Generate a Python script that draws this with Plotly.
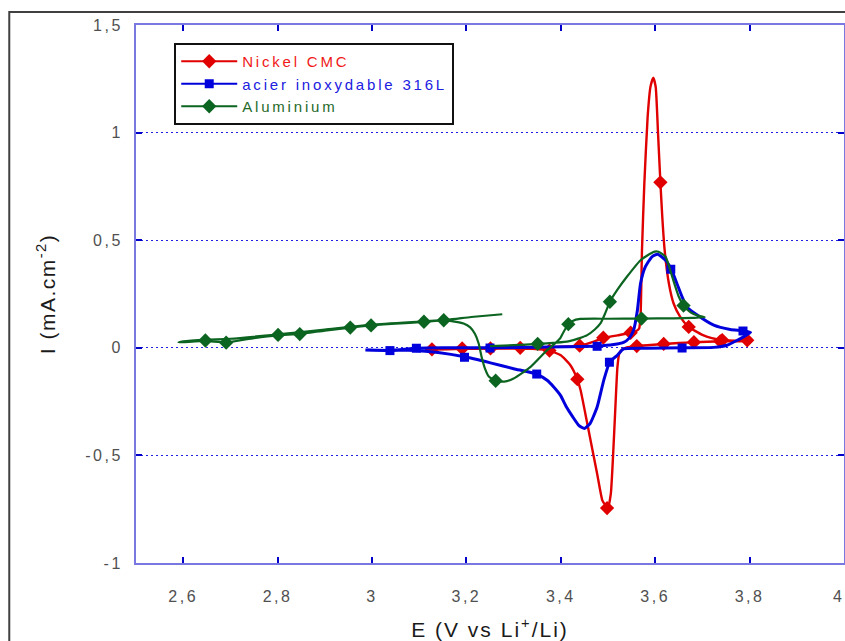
import plotly.graph_objects as go

# ---------------- data ----------------
# Nickel CMC  (full CV loop, anodic then cathodic)
ni_E = [3.113, 3.127, 3.19, 3.25, 3.31, 3.376, 3.44, 3.465, 3.49, 3.52, 3.548, 3.560, 3.566,
        3.569, 3.572, 3.577, 3.584, 3.590, 3.596, 3.601, 3.606, 3.611, 3.615, 3.620, 3.629,
        3.639, 3.653, 3.671, 3.70, 3.72, 3.742, 3.77, 3.803,
        3.78, 3.742, 3.71, 3.682, 3.65, 3.618, 3.59, 3.561, 3.54, 3.530, 3.524, 3.520, 3.515,
        3.511, 3.506, 3.500, 3.494, 3.488, 3.477, 3.463, 3.452, 3.442, 3.435, 3.42, 3.40,
        3.376, 3.34, 3.30, 3.25, 3.19, 3.13, 3.113]
ni_I = [-0.008, -0.007, -0.003, -0.002, 0.000, 0.003, 0.010, 0.025, 0.045, 0.058, 0.070, 0.078, 0.090,
        0.150, 0.454, 0.764, 1.074, 1.213, 1.255, 1.213, 0.997, 0.769, 0.609, 0.454, 0.299,
        0.206, 0.144, 0.097, 0.060, 0.045, 0.036, 0.033, 0.035,
        0.030, 0.030, 0.028, 0.026, 0.022, 0.018, 0.013, 0.008, 0.002, -0.008, -0.025, -0.089, -0.306,
        -0.490, -0.678, -0.745, -0.730, -0.709, -0.585, -0.430, -0.306, -0.197, -0.146, -0.080, -0.035,
        -0.013, -0.005, -0.003, -0.004, -0.005, -0.008, -0.008]
ni_mk_E = [3.127, 3.191, 3.251, 3.314, 3.376, 3.440, 3.490, 3.548, 3.611, 3.671, 3.742, 3.795,
           3.738, 3.682, 3.618, 3.561, 3.435, 3.498]
ni_mk_I = [-0.007, -0.003, -0.003, 0.000, -0.013, 0.010, 0.047, 0.070, 0.769, 0.097, 0.036, 0.035,
           0.030, 0.026, 0.018, 0.008, -0.146, -0.745]

# acier inoxydable 316L
ss_E = [2.986, 3.039, 3.095, 3.15, 3.251, 3.35, 3.478, 3.512, 3.533, 3.545, 3.554, 3.562, 3.569,
        3.579, 3.593, 3.605, 3.622, 3.634, 3.646, 3.657, 3.667, 3.689, 3.724, 3.759, 3.786, 3.802,
        3.774, 3.752, 3.724, 3.658, 3.583, 3.533, 3.519, 3.504, 3.491, 3.477, 3.462, 3.450, 3.438,
        3.425, 3.412, 3.399, 3.385, 3.371, 3.350, 3.300, 3.251, 3.196, 3.14, 3.09, 3.04, 2.99]
ss_I = [-0.010, -0.012, -0.002, 0.000, 0.000, 0.003, 0.008, 0.015, 0.025, 0.045, 0.080, 0.170, 0.300,
        0.376, 0.423, 0.435, 0.407, 0.365, 0.299, 0.237, 0.190, 0.152, 0.105, 0.085, 0.079, 0.072,
        0.035, 0.012, 0.002, 0.000, -0.002, -0.005, -0.036, -0.065, -0.151, -0.275, -0.352, -0.375, -0.360,
        -0.320, -0.275, -0.220, -0.182, -0.151, -0.123, -0.097, -0.070, -0.042, -0.022, -0.012, -0.012, -0.010]
ss_mk_E = [3.038, 3.094, 3.196, 3.250, 3.349, 3.477, 3.503, 3.633, 3.786, 3.657]
ss_mk_I = [-0.013, -0.002, -0.044, -0.001, -0.122, 0.007, -0.067, 0.365, 0.078, -0.001]

# Aluminium
al_E = [3.25, 3.30, 3.351, 3.39, 3.416, 3.44, 3.456, 3.472, 3.484, 3.494, 3.504, 3.52, 3.54, 3.569,
        3.597, 3.607, 3.622, 3.636, 3.650, 3.660, 3.675, 3.69, 3.705,
        3.68, 3.639, 3.571, 3.50, 3.441, 3.425, 3.416, 3.405, 3.399, 3.385, 3.371, 3.336, 3.30,
        3.28, 3.262, 3.248, 3.240, 3.232, 3.226, 3.218, 3.208, 3.194, 3.175, 3.152, 3.11, 3.05,
        2.998, 2.954, 2.90, 2.847, 2.801, 2.75, 2.691, 2.647, 2.59,
        2.60, 2.65, 2.70, 2.80, 2.90, 3.00, 3.10, 3.16, 3.21, 3.276]
al_I = [0.008, 0.012, 0.018, 0.024, 0.030, 0.045, 0.059, 0.085, 0.113, 0.160, 0.214, 0.270, 0.330, 0.407,
        0.446, 0.446, 0.423, 0.330, 0.237, 0.196, 0.165, 0.150, 0.142,
        0.139, 0.137, 0.136, 0.135, 0.134, 0.125, 0.110, 0.070, 0.045, 0.015, -0.011, -0.089, -0.143,
        -0.157, -0.153, -0.135, -0.100, -0.040, 0.020, 0.065, 0.095, 0.113, 0.122, 0.127, 0.120, 0.112,
        0.104, 0.094, 0.080, 0.064, 0.058, 0.045, 0.025, 0.032, 0.025,
        0.030, 0.038, 0.042, 0.062, 0.085, 0.108, 0.122, 0.130, 0.143, 0.156]
al_mk_E = [2.647, 2.691, 2.801, 2.847, 2.954, 2.998, 3.110, 3.152, 3.262, 3.351, 3.416, 3.504, 3.571, 3.660]
al_mk_I = [0.034, 0.024, 0.060, 0.064, 0.094, 0.104, 0.121, 0.128, -0.153, 0.018, 0.110, 0.214, 0.136, 0.196]

x_ticks = [2.6, 2.8, 3.0, 3.2, 3.4, 3.6, 3.8, 4.0]
x_ticktext = ["2,6", "2,8", "3", "3,2", "3,4", "3,6", "3,8", "4"]
y_ticks = [-1, -0.5, 0, 0.5, 1, 1.5]
y_ticktext = ["-1", "-0,5", "0", "0,5", "1", "1,5"]

series_names = ["Nickel CMC", "acier inoxydable 316L", "Aluminium"]

# ---------------- styling ----------------
RED, BLUE, GREEN = "#e00000", "#0000dc", "#0b6420"
TXT = ["#f01818", "#2020e0", "#1f6a2a"]
TICKFONT = dict(family="Liberation Sans, Arial, sans-serif", size=16, color="#505050")

def sp(t, ls=2.0, extra=""):
    return f'<span style="letter-spacing:{ls}px{extra}">{t}</span>'

fig = go.Figure()

specs = [
    (ni_E, ni_I, ni_mk_E, ni_mk_I, RED, "diamond", 11, 2.4),
    (ss_E, ss_I, ss_mk_E, ss_mk_I, BLUE, "square", 9, 3.0),
    (al_E, al_I, al_mk_E, al_mk_I, GREEN, "diamond", 11, 2.2),
]
for i, (ce, ci, me, mi, col, sym, ms, lw) in enumerate(specs):
    fig.add_trace(go.Scatter(x=ce, y=ci, mode="lines",
                             line=dict(color=col, width=lw, shape="spline", smoothing=0.5),
                             showlegend=False, hoverinfo="skip", legendgroup=f"g{i}"))
    fig.add_trace(go.Scatter(x=me, y=mi, mode="markers",
                             marker=dict(symbol=sym, size=ms, color=col, line=dict(width=0)),
                             showlegend=False, legendgroup=f"g{i}"))
for i, (ce, ci, me, mi, col, sym, ms, lw) in enumerate(specs):
    fig.add_trace(go.Scatter(x=[None], y=[None], mode="lines+markers",
                             name=sp(series_names[i], 2.8, f";color:{TXT[i]}"),
                             line=dict(color=col, width=2),
                             marker=dict(symbol=sym, size=ms, color=col),
                             legendgroup=f"g{i}", showlegend=True))

axis_common = dict(
    showline=True, linecolor="#7878e0", linewidth=2, mirror="ticks",
    ticks="inside", ticklen=6, tickwidth=1.5, tickcolor="#0000c8",
    tickfont=TICKFONT, zeroline=False, automargin=False,
)

fig.update_layout(
    width=845, height=641,
    margin=dict(l=136, r=1, t=25, b=78, autoexpand=False),
    paper_bgcolor="white", plot_bgcolor="white",
    font=dict(family="Liberation Sans, Arial, sans-serif"),
    showlegend=True,
    legend=dict(x=0.054, y=0.9665, xanchor="left", yanchor="top",
                bgcolor="white", bordercolor="#111111", borderwidth=2,
                font=dict(size=15), tracegroupgap=4, itemwidth=56,
                traceorder="normal"),
    xaxis=dict(range=[2.5, 4.0], tickmode="array", tickvals=x_ticks[:-1],
               ticktext=[sp(t, 2.5) for t in x_ticktext[:-1]], showgrid=False,
               ticklabelstandoff=18,
               title=dict(text=sp("E (V vs Li<sup>+</sup>/Li)", 2.0),
                          font=dict(size=21, color="#1a1a1a"), standoff=18),
               **axis_common),
    yaxis=dict(range=[-1, 1.5], tickmode="array", tickvals=y_ticks,
               ticktext=[sp(t, 2.5) for t in y_ticktext], showgrid=True,
               gridcolor="#2020e0", gridwidth=1, griddash="2px,3px",
               ticklabelstandoff=8,
               title=dict(text=sp("I (mA.cm<sup>-2</sup>)", 1.5),
                          font=dict(size=21, color="#1a1a1a"), standoff=24),
               **axis_common),
    annotations=[dict(x=x_ticks[-1], xref="x", y=-0.062, yref="paper",
                      text=x_ticktext[-1], showarrow=False, xanchor="right", yanchor="middle",
                      font=TICKFONT)],
    shapes=[dict(type="rect", xref="paper", yref="paper",
                 x0=-0.179, x1=1.02, y0=-0.2, y1=1.024,
                 line=dict(color="#404040", width=2), fillcolor="rgba(0,0,0,0)", layer="below")],
)

fig.write_html("out.html", config={"displayModeBar": False},
               post_script="document.body.style.margin='0px';"
                           "document.body.style.overflow='hidden';"
                           "document.documentElement.style.overflow='hidden';")
